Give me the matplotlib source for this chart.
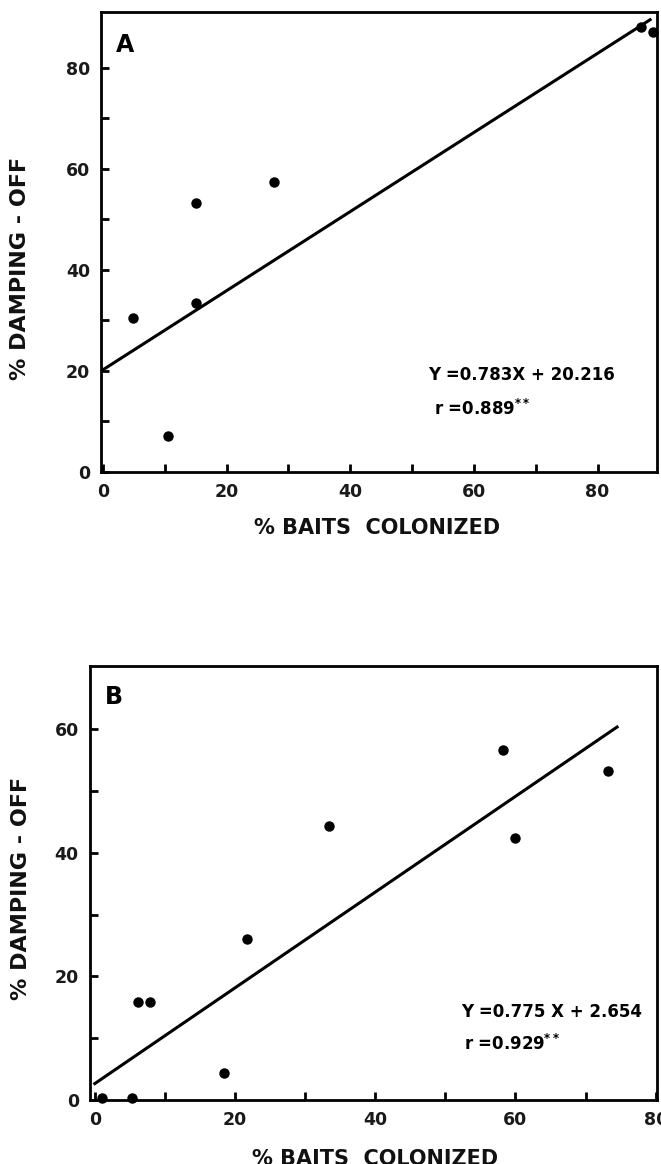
import matplotlib.pyplot as plt

# panel A data
a_x = [4.8, 10.6, 15.0, 15.1, 27.6, 87.1, 89.0]
a_y = [30.4, 7.2, 53.2, 33.5, 57.3, 88.0, 87.0]
a_slope, a_icpt = 0.783, 20.216
a_fit_x = [0, 88.5]

# panel B data
b_x = [1.0, 5.3, 6.1, 7.9, 18.4, 21.7, 33.4, 58.2, 59.9, 73.2]
b_y = [0.3, 0.3, 15.9, 15.9, 4.4, 26.0, 44.4, 56.6, 42.5, 53.3]
b_slope, b_icpt = 0.775, 2.654
b_fit_x = [0, 74.5]

x_ticks_a = [0, 20, 40, 60, 80]
y_ticks_a = [0, 20, 40, 60, 80]
x_ticks_b = [0, 20, 40, 60, 80]
y_ticks_b = [0, 20, 40, 60]

plt.rcParams['font.family'] = ["DejaVu Sans"]
plt.rcParams['mathtext.fontset'] = "dejavusans"


def style_axes(ax, xlim, ylim, xt, yt, ylab_pos, xlab_pos):
    ax.set_xlim(*xlim)
    ax.set_ylim(*ylim)
    ax.set_xticks(xt)
    ax.set_yticks(yt)
    # minor ticks every 10, none right at the top/right edge
    ax.set_xticks(range(10, int(xlim[1] - 2), 10), minor=True)
    ax.set_yticks(range(10, int(ylim[1] - 2), 10), minor=True)
    for s in ax.spines.values():
        s.set_linewidth(2.0)
    ax.tick_params(which="both", direction="in", length=6, width=2,
                   top=False, right=False)
    ax.tick_params(which="major", labelsize=12.5, pad=8)
    for lab in ax.get_xticklabels() + ax.get_yticklabels():
        lab.set_fontweight("bold")
        lab.set_color("#1a1a1a")
    ax.set_xlabel("% BAITS  COLONIZED", fontsize=15, fontweight="bold",
                  color="#111111")
    ax.set_ylabel("% DAMPING - OFF", fontsize=16, fontweight="bold",
                  color="#111111")
    ax.yaxis.set_label_coords(*ylab_pos)
    ax.xaxis.set_label_coords(*xlab_pos)


def draw_panel(ax, xs, ys, slope, icpt, fit_x, letter, eq, rtxt, eq_pos, r_pos):
    ax.plot(xs, ys, "o", color="black", markersize=6.5, clip_on=False, zorder=3)
    fit_y = [slope * v + icpt for v in fit_x]
    ax.plot(fit_x, fit_y, color="black", linewidth=2.2)
    ax.text(0.027, 0.955, letter, transform=ax.transAxes, fontsize=17,
            fontweight="bold", va="top", ha="left")
    ax.text(eq_pos[0], eq_pos[1], eq, transform=ax.transAxes, fontsize=12,
            fontweight="bold", va="center", ha="left")
    ax.text(r_pos[0], r_pos[1], rtxt, transform=ax.transAxes, fontsize=12,
            fontweight="bold", va="center", ha="left")


fig = plt.figure(figsize=(6.61, 11.64), dpi=100, facecolor="white")

ax1 = fig.add_axes([0.1528, 0.5945, 0.841, 0.395])
style_axes(ax1, (-0.3, 89.6), (0, 91), x_ticks_a, y_ticks_a,
           (-0.128, 0.443), (0.497, -0.10))
draw_panel(ax1, a_x, a_y, a_slope, a_icpt, a_fit_x, "A",
           "Y =0.783X + 20.216", r"r =0.889$^{\bf{**}}$",
           (0.588, 0.211), (0.599, 0.137))

ax2 = fig.add_axes([0.136, 0.055, 0.858, 0.373])
style_axes(ax2, (-0.7, 80.2), (0, 70.3), x_ticks_b, y_ticks_b,
           (-0.104, 0.488), (0.503, -0.113))
draw_panel(ax2, b_x, b_y, b_slope, b_icpt, b_fit_x, "B",
           "Y =0.775 X + 2.654", r"r =0.929$^{\bf{**}}$",
           (0.655, 0.203), (0.659, 0.128))

fig.savefig("out.png", dpi=100)
